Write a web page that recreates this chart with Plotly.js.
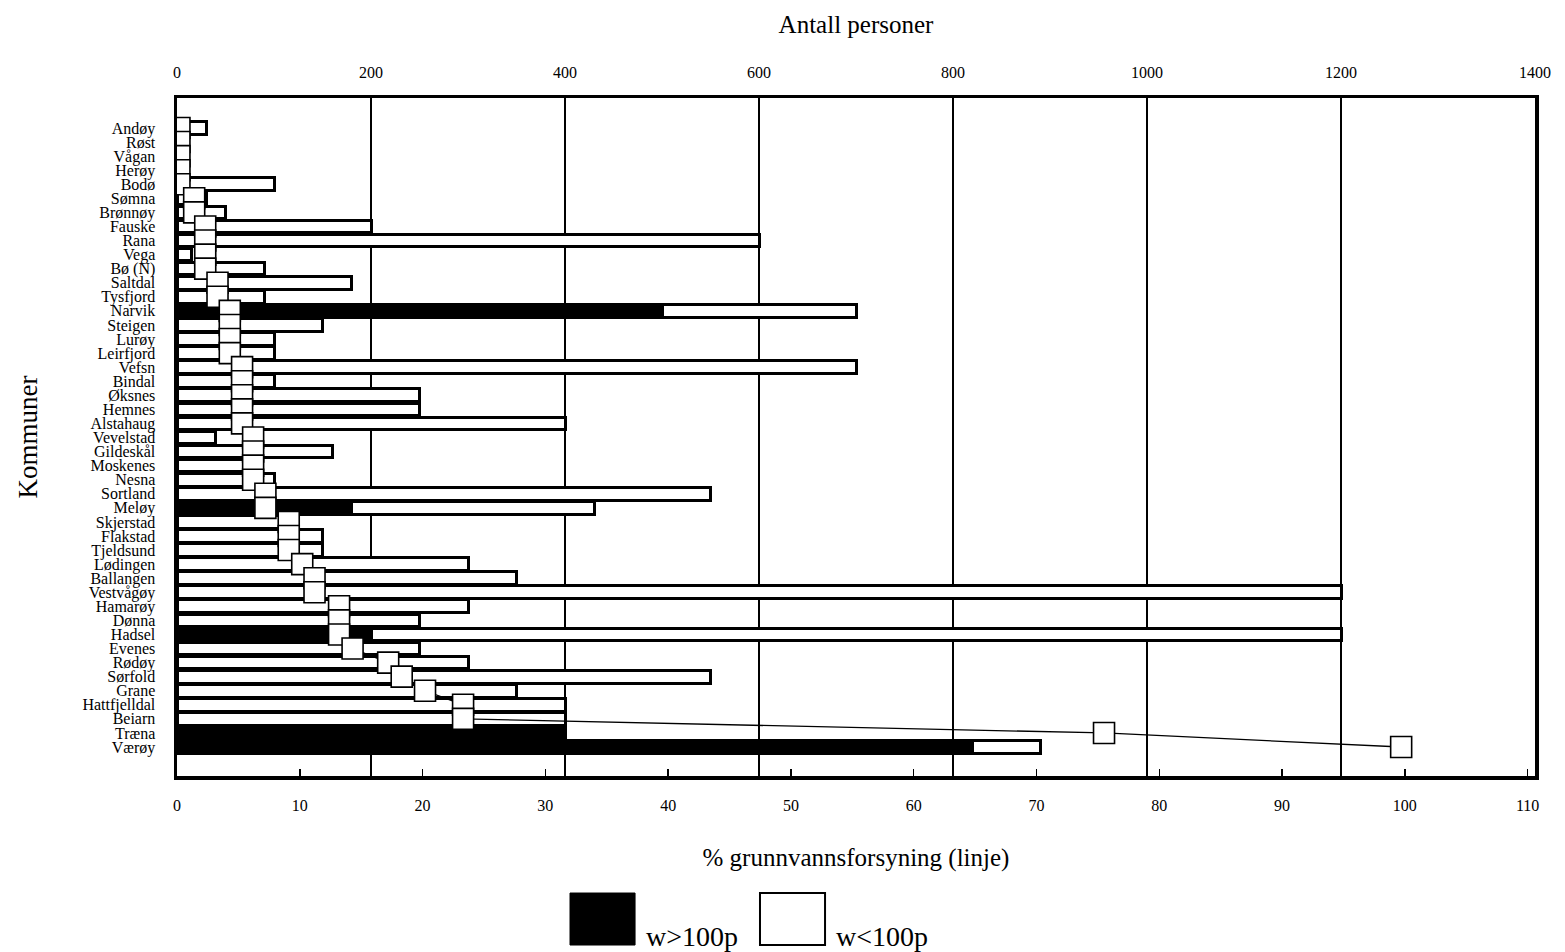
<!DOCTYPE html>
<html>
<head>
<meta charset="utf-8">
<script src="https://cdn.plot.ly/plotly-3.0.1.min.js"></script>
<style>html,body{margin:0;padding:0;background:#fff;}#chart{width:1565px;height:952px;}</style>
</head>
<body>
<div id="chart"></div>
<script>
const kommuner = ["Andøy","Røst","Vågan","Herøy","Bodø","Sømna","Brønnøy","Fauske","Rana","Vega",
  "Bø (N)","Saltdal","Tysfjord","Narvik","Steigen","Lurøy","Leirfjord","Vefsn","Bindal","Øksnes",
  "Hemnes","Alstahaug","Vevelstad","Gildeskål","Moskenes","Nesna","Sortland","Meløy","Skjerstad","Flakstad",
  "Tjeldsund","Lødingen","Ballangen","Vestvågøy","Hamarøy","Dønna","Hadsel","Evenes","Rødøy","Sørfold",
  "Grane","Hattfjelldal","Beiarn","Træna","Værøy"];
// persons served by waterworks > 100 persons (black)
const over100 = [0,0,0,0,0,0,0,0,0,0,
  0,0,0,500,0,0,0,0,0,0,
  0,0,0,0,0,0,0,180,0,0,
  0,0,0,0,0,0,200,0,0,0,
  0,0,0,400,820];
// persons served by waterworks < 100 persons (white)
const under100 = [30,0,0,0,100,30,50,200,600,15,
  90,180,90,200,150,100,100,700,100,250,
  250,400,40,160,85,100,550,250,120,150,
  150,300,350,1200,300,250,1000,250,300,550,
  350,400,400,0,70];
// % groundwater supply (line)
const pctGrunnvann = [0.2,0.2,0.2,0.2,0.2,1.4,1.4,2.3,2.3,2.3,
  2.3,3.3,3.3,4.3,4.3,4.3,4.3,5.3,5.3,5.3,
  5.3,5.3,6.2,6.2,6.2,6.2,7.2,7.2,9.1,9.1,
  9.1,10.2,11.2,11.2,13.2,13.2,13.2,14.3,17.2,18.3,
  20.2,23.3,23.3,75.5,99.7];
const personTicks = [0,200,400,600,800,1000,1200,1400];
const pctTicks = [0,10,20,30,40,50,60,70,80,90,100,110];

const serif = "Liberation Serif, Times New Roman, serif";

const traces = [
  {type:"bar", orientation:"h", name:"w>100p", y:kommuner, x:over100, xaxis:"x", yaxis:"y",
   width:0.9, marker:{color:"#000", line:{color:"#000", width:3}}, hoverinfo:"x+y"},
  {type:"bar", orientation:"h", name:"w<100p", y:kommuner, x:under100, xaxis:"x", yaxis:"y",
   width:0.9, marker:{color:"#fff", line:{color:"#000", width:3}}, hoverinfo:"x+y"},
  {type:"scatter", mode:"lines+markers", name:"% grunnvann", y:kommuner, x:pctGrunnvann,
   xaxis:"x2", yaxis:"y", line:{color:"#000", width:1.3},
   marker:{symbol:"square", size:21, color:"#fff", line:{color:"#000", width:1.6}}}
];

const layout = {
  width:1565, height:952,
  margin:{l:177, r:30, t:98, b:176, pad:0},
  paper_bgcolor:"#fff", plot_bgcolor:"#fff",
  showlegend:false,
  barmode:"stack",
  font:{family:serif, color:"#000", size:16},
  xaxis:{
    side:"top", range:[0,1400], tickmode:"array", tickvals:personTicks, ticktext:personTicks.map(String),
    showgrid:true, gridcolor:"#000", gridwidth:1.2, zeroline:false,
    showline:true, linecolor:"#000", linewidth:3.5, mirror:true,
    ticks:"", ticklabelstandoff:10,
    tickfont:{family:serif, size:16, color:"#000"},
    title:{text:"Antall personer", font:{family:serif, size:25, color:"#000"}, standoff:24}
  },
  xaxis2:{
    overlaying:"x", side:"bottom", range:[0,110.6], tickmode:"array", tickvals:pctTicks, ticktext:pctTicks.map(String),
    showgrid:false, zeroline:false, showline:false,
    ticks:"inside", ticklen:7, tickwidth:1.5, tickcolor:"#000", ticklabelstandoff:18,
    tickfont:{family:serif, size:16, color:"#000"},
    title:{text:"% grunnvannsforsyning (linje)", font:{family:serif, size:25, color:"#000"}, standoff:35}
  },
  yaxis:{
    type:"category", categoryorder:"array", categoryarray:kommuner,
    tickmode:"array", tickvals:kommuner, ticktext:kommuner,
    range:[46.06,-2.13], showgrid:false, zeroline:false,
    showline:true, linecolor:"#000", linewidth:3.5, mirror:true,
    ticks:"", ticklabelstandoff:15,
    tickfont:{family:serif, size:16, color:"#000"},
    title:{text:"Kommuner", font:{family:serif, size:27, color:"#000"}, standoff:38}
  },
  shapes:[
    {type:"rect", xref:"paper", yref:"paper", x0:0.2894, x1:0.3373, y0:-0.2493, y1:-0.1726,
     fillcolor:"#000", line:{color:"#000", width:1}},
    {type:"rect", xref:"paper", yref:"paper", x0:0.4293, x1:0.4772, y0:-0.2493, y1:-0.1726,
     fillcolor:"#fff", line:{color:"#000", width:2}}
  ],
  annotations:[
    {xref:"paper", yref:"paper", x:0.3436, y:-0.236, xanchor:"left", yanchor:"middle", showarrow:false,
     text:"w>100p", font:{family:serif, size:28, color:"#000"}},
    {xref:"paper", yref:"paper", x:0.4835, y:-0.236, xanchor:"left", yanchor:"middle", showarrow:false,
     text:"w<100p", font:{family:serif, size:28, color:"#000"}}
  ]
};

Plotly.newPlot("chart", traces, layout, {displayModeBar:false, staticPlot:true});
</script>
</body>
</html>
